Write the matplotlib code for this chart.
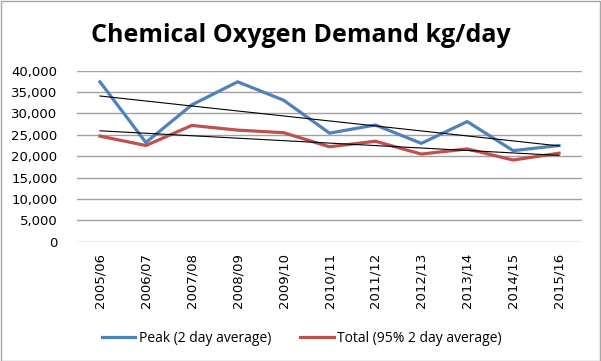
import numpy as np
import matplotlib
matplotlib.use("Agg")
import matplotlib.pyplot as plt
from matplotlib.patches import Rectangle

years = ["2005/06", "2006/07", "2007/08", "2008/09", "2009/10", "2010/11",
         "2011/12", "2012/13", "2013/14", "2014/15", "2015/16"]
peak = [37400, 23200, 32000, 37400, 33100, 25400, 27300, 23000, 28100, 21300, 22500]
total = [24700, 22500, 27200, 26100, 25500, 22200, 23500, 20500, 21700, 19100, 20700]

plt.rcParams['font.family'] = ['Open Sans', 'DejaVu Sans']

fig = plt.figure(figsize=(6.01, 3.61), dpi=100)
W, H = 601, 361
ax = fig.add_axes([77 / W, 1 - 241.7 / H, (582 - 77) / W, (241.7 - 70.7) / H])

x = np.arange(len(years))
ax.plot(x, peak, color="#4F81BD", lw=2.3, solid_joinstyle="round", label="Peak (2 day average)")
ax.plot(x, total, color="#C0504D", lw=2.3, solid_joinstyle="round", label="Total (95% 2 day average)")

# linear trendlines
for s in (peak, total):
    m, b = np.polyfit(x, s, 1)
    ax.plot(x, m * x + b, color="black", lw=0.8)

ax.set_xlim(-0.5, len(years) - 0.5)
ax.set_ylim(0, 40000)
ax.set_yticks(range(0, 40001, 5000))
ax.set_yticklabels([f"{v:,}" for v in range(0, 40001, 5000)], fontsize=9.5, family="DejaVu Sans")
ax.set_xticks(x)
ax.set_xticklabels(years, rotation=90, fontsize=9.5, family="DejaVu Sans")
ax.yaxis.grid(True, color="#A0A0A0", lw=1)
ax.set_axisbelow(True)
for sp in ax.spines.values():
    sp.set_visible(False)
ax.tick_params(axis="y", length=0, pad=14)
ax.tick_params(axis="x", length=0, pad=8)

fig.text(0.5, 1 - 35 / H, "Chemical Oxygen Demand kg/day", ha="center", va="center",
         fontsize=18, fontweight="bold")

fig.legend(loc="center", bbox_to_anchor=(302 / W, 1 - 338 / H), ncol=2, frameon=False,
           fontsize=10, handlelength=2.4, handletextpad=0.25, columnspacing=2.1)

fig.patches.append(Rectangle((0.5 / W, 0.5 / H), 1 - 1.5 / W, 1 - 1.5 / H, transform=fig.transFigure,
                             fill=False, edgecolor="#A6A6A6", lw=1))

fig.savefig("out.png", dpi=100)
